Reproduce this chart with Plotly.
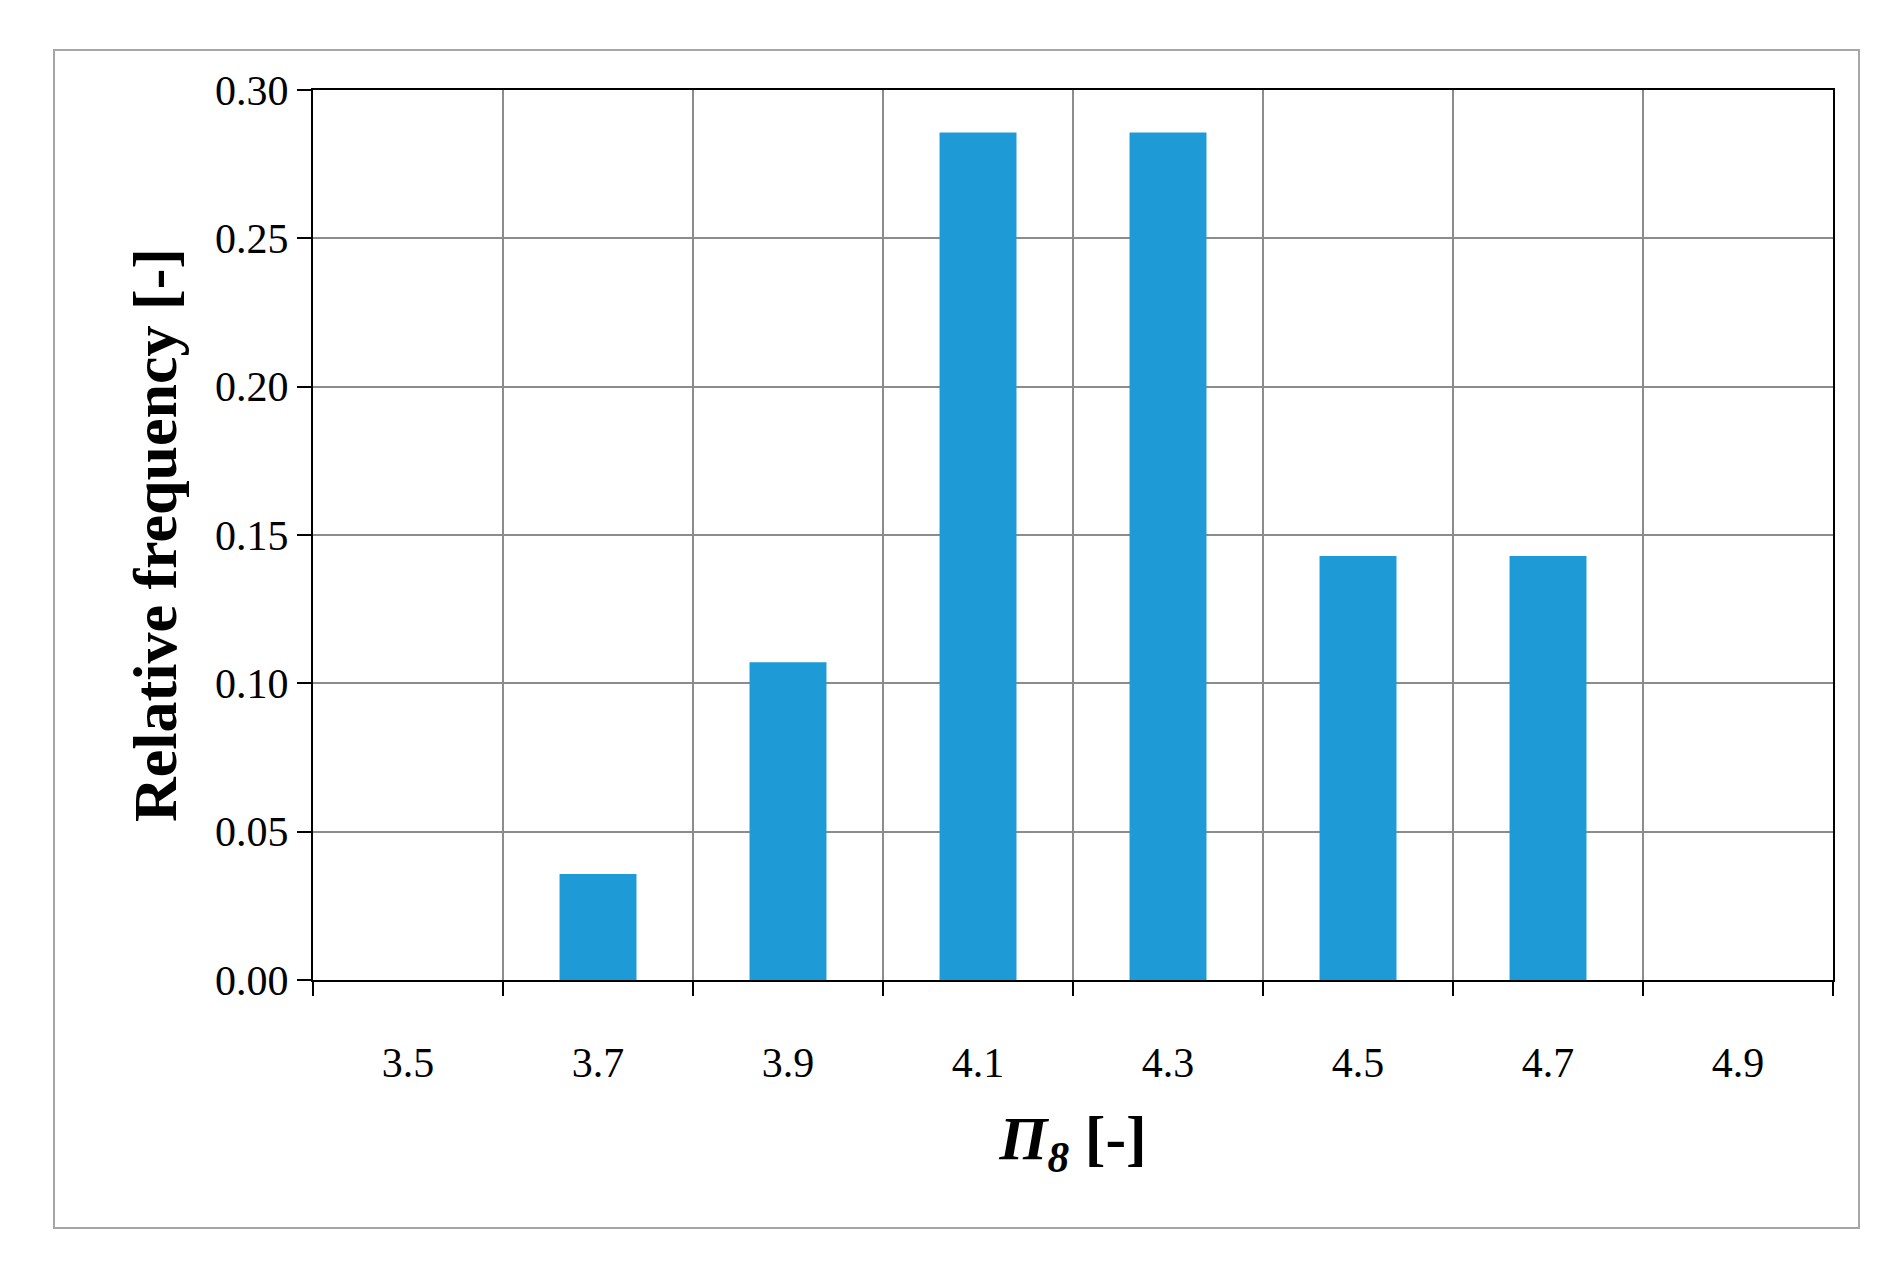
import plotly.graph_objects as go

categories = [3.5, 3.7, 3.9, 4.1, 4.3, 4.5, 4.7, 4.9]
tick_labels = ["3.5", "3.7", "3.9", "4.1", "4.3", "4.5", "4.7", "4.9"]
rel_freq = [0.0, 0.0357, 0.1071, 0.2857, 0.2857, 0.1429, 0.1429, 0.0]
y_ticks = [0.0, 0.05, 0.10, 0.15, 0.20, 0.25, 0.30]

font = "Liberation Serif"
fig = go.Figure(go.Bar(x=categories, y=rel_freq, width=0.081, marker=dict(color="#1E9BD7", line_width=0)))

L, R, T, B = 305, 66, 82, 290
pw, ph = 1891 - L - R, 1262 - T - B
fig.update_layout(
    width=1891, height=1262, plot_bgcolor="white", paper_bgcolor="white",
    margin=dict(l=L, r=R, t=T, b=B), showlegend=False,
    font=dict(family=font, color="black", size=42),
    shapes=[dict(type="rect", xref="paper", yref="paper", x0=-(L - 46) / pw, x1=1 + (R - 40) / pw,
                 y0=-(B - 42) / ph, y1=1 + (T - 42) / ph, line=dict(color="#A6A6A6", width=2))],
)
fig.update_xaxes(
    range=[3.4, 5.0], tickvals=categories, ticktext=tick_labels, ticks="", showgrid=False,
    ticklabelstandoff=45, showline=True, linecolor="black", linewidth=2, mirror=True,
    minor=dict(tick0=3.4, dtick=0.2, showgrid=True, gridcolor="#8C8C8C", gridwidth=1.5,
               ticks="outside", ticklen=14, tickcolor="black", tickwidth=2),
    title=dict(text="<b><i>Π<sub>8</sub></i> [-]</b>", font=dict(size=62), standoff=30),
    zeroline=False,
)
fig.update_yaxes(
    range=[0, 0.30], tickvals=y_ticks, tickformat=".2f", ticks="outside", ticklen=14,
    tickwidth=2, tickcolor="black", showgrid=True, gridcolor="#8C8C8C", gridwidth=1.5,
    showline=True, linecolor="black", linewidth=2, mirror=True, zeroline=False,
    title=dict(text="<b>Relative frequency [-]</b>", font=dict(size=62), standoff=18),
)
fig.write_html("out.html")
